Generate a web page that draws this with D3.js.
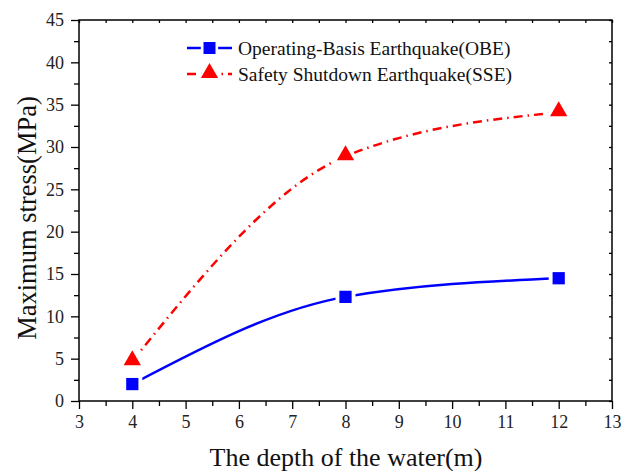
<!DOCTYPE html>
<html><head><meta charset="utf-8">
<script src="https://cdn.jsdelivr.net/npm/d3@7"></script>
<style>body{margin:0;background:#fff}svg{display:block}text{font-family:"Liberation Serif","Times New Roman",serif}</style>
</head><body>
<svg id="c" width="631" height="471"></svg>
<script>
const depth = [4, 8, 12];
const obe = [2.0, 12.3, 14.5];
const sse = [4.7, 28.9, 34.1];
const seriesNames = ["Operating-Basis Earthquake(OBE)", "Safety Shutdown Earthquake(SSE)"];
const xTicks = [3,4,5,6,7,8,9,10,11,12,13];
const yTicks = [0,5,10,15,20,25,30,35,40,45];

const svg = d3.select("#c");
const L = 79, R = 612, T = 20, B = 401;
const x = d3.scaleLinear().domain([3, 13]).range([L, R]);
const y = d3.scaleLinear().domain([0, 45]).range([B, T]);

svg.append("rect").attr("x", L).attr("y", T).attr("width", R-L).attr("height", B-T)
  .attr("fill", "none").attr("stroke", "#000").attr("stroke-width", 1.5);

const minorX = d3.range(3.5, 13, 1);
const minorY = d3.range(2.5, 45, 5);

const gx = svg.append("g").attr("transform", `translate(0,${B})`)
  .call(d3.axisBottom(x).tickValues(xTicks).tickFormat(d3.format("d")).tickSize(8).tickPadding(6));
gx.append("g").call(d3.axisBottom(x).tickValues(minorX).tickFormat("").tickSize(5));
const gy = svg.append("g").attr("transform", `translate(${L},0)`)
  .call(d3.axisLeft(y).tickValues(yTicks).tickFormat(d3.format("d")).tickSize(8).tickPadding(7));
gy.append("g").call(d3.axisLeft(y).tickValues(minorY).tickFormat("").tickSize(5));
svg.append("g").attr("transform", `translate(0,${T})`)
  .call(d3.axisBottom(x).tickValues(xTicks.concat(minorX)).tickFormat("").tickSize(3));
svg.append("g").attr("transform", `translate(${R},0)`)
  .call(d3.axisLeft(y).tickValues(yTicks.concat(minorY)).tickFormat("").tickSize(3));

svg.selectAll(".domain").remove();
svg.selectAll(".tick line").attr("stroke", "#000").attr("stroke-width", 1.3);
svg.selectAll(".tick text").attr("font-size", 18).attr("fill", "#222")
  .style("font-family", '"Liberation Serif","Times New Roman",serif');

svg.append("text").attr("x", 346).attr("y", 466).attr("text-anchor", "middle")
  .attr("font-size", 26).attr("fill", "#111").text("The depth of the water(m)");
svg.append("text").attr("transform", "translate(36,218) rotate(-90)").attr("text-anchor", "middle")
  .attr("font-size", 26.5).attr("fill", "#111").text("Maximum stress(MPa)");

const line = d3.line().x(d => x(d[0])).y(d => y(d[1])).curve(d3.curveMonotoneX);
const obePts = depth.map((d, i) => [d, obe[i]]);
const ssePts = depth.map((d, i) => [d, sse[i]]);

svg.append("path").attr("d", line(obePts)).attr("fill", "none")
  .attr("stroke", "#0000ff").attr("stroke-width", 2.5);
svg.append("path").attr("d", line(ssePts)).attr("fill", "none")
  .attr("stroke", "#ff0000").attr("stroke-width", 2.5).attr("stroke-dasharray", "9,5,1.5,5");

const sq = d3.symbol().type(d3.symbolSquare);
const tri = d3.symbol().type(d3.symbolTriangle);

function markers(pts, gen, size, halo, color, dy) {
  const g = svg.append("g");
  g.selectAll(".h").data(pts).join("path")
    .attr("transform", d => `translate(${x(d[0])},${y(d[1]) + dy})`)
    .attr("d", gen.size(halo)()).attr("fill", "#fff");
  g.selectAll(".m").data(pts).join("path")
    .attr("transform", d => `translate(${x(d[0])},${y(d[1]) + dy})`)
    .attr("d", gen.size(size)()).attr("fill", color);
}
markers(obePts, sq, 150, 400, "#0000ff", 0);
markers(ssePts, tri, 130, 380, "#ff0000", -1);

const legend = [
  {name: seriesNames[0], color: "#0000ff", dash: null, gen: sq, size: 144, y: 48},
  {name: seriesNames[1], color: "#ff0000", dash: "9,5,1.5,5", gen: tri, size: 130, y: 74}
];
legend.forEach(l => {
  svg.append("line").attr("x1", 187).attr("x2", 232).attr("y1", l.y).attr("y2", l.y)
    .attr("stroke", l.color).attr("stroke-width", 2.5).attr("stroke-dasharray", l.dash);
  svg.append("path").attr("transform", `translate(209.5,${l.y})`).attr("d", l.gen.size(300)()).attr("fill", "#fff");
  svg.append("path").attr("transform", `translate(209.5,${l.y - (l.gen===tri?1:0)})`).attr("d", l.gen.size(l.size)()).attr("fill", l.color);
  svg.append("text").attr("x", 238).attr("y", l.y + 6.5).attr("font-size", 19.5).attr("fill", "#111").text(l.name);
});
</script>
</body></html>
